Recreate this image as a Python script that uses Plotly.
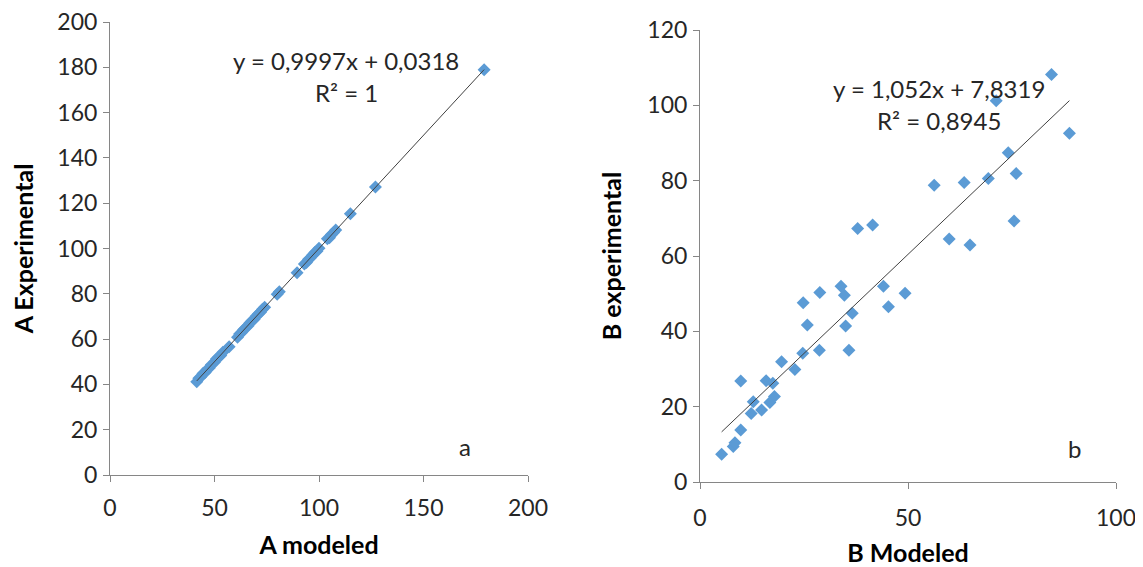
import plotly.graph_objects as go

# ---- Data: panel a ----
a_modeled = [41.5, 42.5, 43.5, 44.5, 45.5, 46.5, 47.5, 48.5, 50.0, 51.0, 52.0, 53.0, 54.0,
             57.0, 61.0, 62.0, 63.0, 64.0, 65.0, 66.0, 67.0, 68.0, 69.0, 70.0, 71.0, 72.0,
             73.0, 74.0, 80.0, 81.0, 89.5, 93.0, 94.0, 95.0, 96.0, 97.0, 98.0, 99.0, 100.0,
             104.0, 105.0, 106.0, 107.0, 108.0, 115.0, 127.0, 179.0]
a_experimental = [41.2, 42.7, 43.4, 44.8, 45.3, 46.6, 47.2, 48.7, 49.8, 51.3, 52.1, 52.8, 54.2,
                  56.6, 60.8, 62.3, 62.9, 64.2, 65.1, 65.8, 67.2, 68.1, 68.8, 70.2, 71.1, 71.8,
                  73.2, 74.1, 79.8, 80.9, 89.3, 93.2, 93.8, 95.2, 95.9, 97.1, 98.2, 98.8, 100.1,
                  104.3, 104.8, 106.2, 107.1, 108.2, 115.3, 127.1, 178.9]

# ---- Data: panel b ----
b_modeled = [5.2, 8.0, 8.4, 9.8, 9.8, 12.8, 12.3, 14.8, 15.9, 17.5, 16.8, 17.9, 19.6, 22.8,
             24.7, 24.8, 25.8, 28.7, 28.8, 33.9, 34.7, 35.0, 35.8, 36.6, 44.1, 45.3, 49.3,
             37.9, 41.5, 84.5, 71.2, 88.8, 74.1, 56.3, 63.5, 69.3, 76.0, 75.5, 59.9, 64.9]
b_experimental = [7.4, 9.4, 10.4, 13.8, 26.8, 21.3, 18.2, 19.1, 26.9, 26.2, 21.1, 22.7, 31.9, 29.9,
                  34.2, 47.6, 41.7, 35.0, 50.3, 52.0, 49.6, 41.4, 35.0, 44.8, 52.0, 46.5, 50.1,
                  67.3, 68.2, 108.2, 101.2, 92.6, 87.4, 78.8, 79.5, 80.6, 81.9, 69.3, 64.5, 62.9]

a_slope, a_intercept = 0.9997, 0.0318
b_slope, b_intercept = 1.052, 7.8319
a_eq = "y = 0,9997x + 0,0318"
a_r2 = "R² = 1"
b_eq = "y = 1,052x + 7,8319"
b_r2 = "R² = 0,8945"

MARKER = "#5B9BD5"
AXIS = "#868686"
TXT = "#262626"
FONT = "Lato"

# page has an 8px body margin; size the figure so it fits the 1143x567 window
OFF = 8
W, H = 1143 - OFF, 567 - OFF


def px_x(p):
    return (p - OFF) / W


def px_y(p):
    return (H - (p - OFF)) / H


fig = go.Figure()

fig.add_trace(go.Scatter(
    x=a_modeled, y=a_experimental, mode="markers",
    marker=dict(symbol="diamond", size=10, color=MARKER),
    xaxis="x", yaxis="y", showlegend=False))
ax_min, ax_max = min(a_modeled), max(a_modeled)
fig.add_trace(go.Scatter(
    x=[ax_min, ax_max], y=[a_slope * ax_min + a_intercept, a_slope * ax_max + a_intercept],
    mode="lines", line=dict(color="#404040", width=1),
    xaxis="x", yaxis="y", showlegend=False))

fig.add_trace(go.Scatter(
    x=b_modeled, y=b_experimental, mode="markers",
    marker=dict(symbol="diamond", size=10, color=MARKER),
    xaxis="x2", yaxis="y2", showlegend=False))
bx_min, bx_max = min(b_modeled), max(b_modeled)
fig.add_trace(go.Scatter(
    x=[bx_min, bx_max], y=[b_slope * bx_min + b_intercept, b_slope * bx_max + b_intercept],
    mode="lines", line=dict(color="#404040", width=1),
    xaxis="x2", yaxis="y2", showlegend=False))

axis_common = dict(
    showgrid=False, zeroline=False, showline=True, linecolor=AXIS, linewidth=1,
    ticks="outside", ticklen=6, tickcolor=AXIS, tickwidth=1, automargin=False,
    ticklabeloverflow="allow",
    tickfont=dict(family=FONT, size=23, color=TXT),
)
title_font = dict(family=FONT, size=25, color="#000000", weight="bold")

fig.update_layout(
    width=W, height=H,
    paper_bgcolor="white", plot_bgcolor="white",
    margin=dict(l=0, r=0, t=0, b=0),
    font=dict(family=FONT, color=TXT),
    xaxis=dict(domain=[px_x(110), px_x(528)], range=[0, 200], tickvals=[0, 50, 100, 150, 200],
               anchor="y", title=dict(text="A modeled", font=title_font, standoff=16),
               ticklabelstandoff=6, **axis_common),
    yaxis=dict(domain=[px_y(475), px_y(22)], range=[0, 200], dtick=20,
               anchor="x", title=dict(text="A Experimental", font=title_font, standoff=22),
               ticklabelstandoff=1, **axis_common),
    xaxis2=dict(domain=[px_x(700), px_x(1116)], range=[0, 100], tickvals=[0, 50, 100],
                anchor="y2", title=dict(text="B Modeled", font=title_font, standoff=24),
                ticklabelstandoff=9, **axis_common),
    yaxis2=dict(domain=[px_y(482), px_y(30)], range=[0, 120], dtick=20,
                anchor="x2", title=dict(text="B experimental", font=title_font, standoff=18),
                ticklabelstandoff=1, **axis_common),
)

ann_font = dict(family=FONT, size=24, color=TXT)
anns = [
    dict(x=113, y=183, xref="x", yref="y", text=a_eq),
    dict(x=113, y=169, xref="x", yref="y", text=a_r2),
    dict(x=170, y=12.8, xref="x", yref="y", text="a"),
    dict(x=57.5, y=104.6, xref="x2", yref="y2", text=b_eq),
    dict(x=57.5, y=96.1, xref="x2", yref="y2", text=b_r2),
    dict(x=90.1, y=8.8, xref="x2", yref="y2", text="b"),
]
for a in anns:
    fig.add_annotation(showarrow=False, font=ann_font, xanchor="center", yanchor="middle", **a)

fig.write_html("out.html")
